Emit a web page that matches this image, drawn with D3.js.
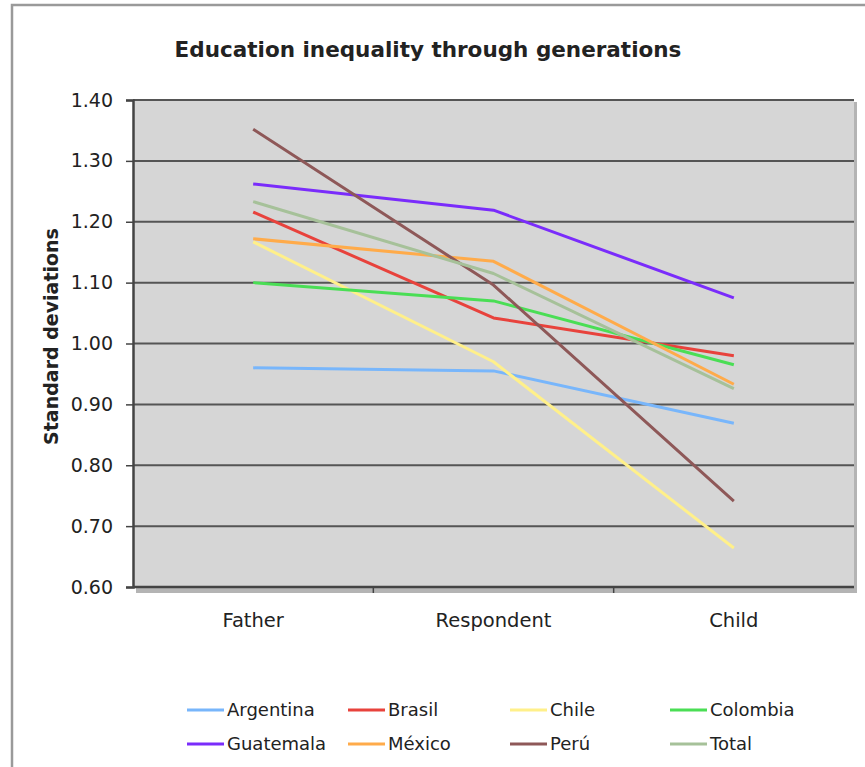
<!DOCTYPE html>
<html>
<head>
<meta charset="utf-8">
<script src="https://cdn.jsdelivr.net/npm/d3@7"></script>
<style>
  html, body { margin: 0; padding: 0; background: #fff; }
  svg { display: block; }
  text { font-family: "DejaVu Sans", Verdana, sans-serif; fill: #222; }
</style>
</head>
<body>
<svg id="chart" width="865" height="767"></svg>
<script>
// Generations on the horizontal axis
const generations = ["Father", "Respondent", "Child"];

// Standard deviation of schooling, per country, per generation
const argentina = [0.960, 0.955, 0.869];
const brasil    = [1.216, 1.042, 0.980];
const chile     = [1.167, 0.970, 0.664];
const colombia  = [1.100, 1.070, 0.965];
const guatemala = [1.262, 1.219, 1.075];
const mexico    = [1.172, 1.135, 0.933];
const peru      = [1.352, 1.096, 0.741];
const total     = [1.233, 1.115, 0.926];

const seriesNames = ["Argentina", "Brasil", "Chile", "Colombia", "Guatemala", "México", "Perú", "Total"];
const seriesColors = ["#78b6fb", "#e8423c", "#fff08a", "#4ade55", "#7a2cfb", "#ffab4a", "#8e5858", "#a6c199"];
const yTicks = [0.60, 0.70, 0.80, 0.90, 1.00, 1.10, 1.20, 1.30, 1.40];

const series = [argentina, brasil, chile, colombia, guatemala, mexico, peru, total]
  .map((values, i) => ({ name: seriesNames[i], color: seriesColors[i], values }));

const svg = d3.select("#chart");

// Outer frame of the chart
svg.append("rect")
  .attr("x", 12).attr("y", 5)
  .attr("width", 870).attr("height", 780)
  .attr("fill", "#fff")
  .attr("stroke", "#9a9a9a")
  .attr("stroke-width", 2.5);

const plot = { left: 133, right: 854, top: 100, bottom: 587 };

const x = d3.scaleBand()
  .domain(generations)
  .range([plot.left, plot.right])
  .paddingInner(0).paddingOuter(0);

const y = d3.scaleLinear()
  .domain([0.6, 1.4])
  .range([plot.bottom, plot.top]);

// Plot area with a soft shadow on the right
svg.append("rect")
  .attr("x", plot.left + 3).attr("y", plot.top + 2)
  .attr("width", plot.right - plot.left).attr("height", plot.bottom - plot.top + 4)
  .attr("fill", "#b4b4b4");
svg.append("rect")
  .attr("x", plot.left).attr("y", plot.top)
  .attr("width", plot.right - plot.left).attr("height", plot.bottom - plot.top)
  .attr("fill", "#d6d6d6");

// Horizontal gridlines
svg.append("g")
  .selectAll("line")
  .data(yTicks)
  .join("line")
  .attr("x1", plot.left).attr("x2", plot.right)
  .attr("y1", d => y(d)).attr("y2", d => y(d))
  .attr("stroke", "#555")
  .attr("stroke-width", 2);

// Y axis
const yAxis = svg.append("g")
  .attr("transform", `translate(${plot.left},0)`)
  .call(d3.axisLeft(y).tickValues(yTicks).tickFormat(d3.format(".2f")).tickSize(7).tickPadding(13));
yAxis.select(".domain").attr("stroke", "#444").attr("stroke-width", 2.5);
yAxis.selectAll(".tick line").attr("stroke", "#444").attr("stroke-width", 1.5);
yAxis.selectAll(".tick text")
  .attr("font-family", "DejaVu Sans, Verdana, sans-serif")
  .attr("font-size", 19)
  .attr("fill", "#333");

// X axis: ticks between categories, labels centred on each category
const xAxis = svg.append("g")
  .attr("transform", `translate(0,${plot.bottom})`);
xAxis.append("line")
  .attr("x1", plot.left).attr("x2", plot.right)
  .attr("stroke", "#444").attr("stroke-width", 2.5);
xAxis.selectAll("line.tick")
  .data(generations.slice(1))
  .join("line")
  .attr("class", "tick")
  .attr("x1", d => x(d)).attr("x2", d => x(d))
  .attr("y1", 0).attr("y2", 6)
  .attr("stroke", "#444").attr("stroke-width", 1.5);
xAxis.selectAll("text")
  .data(generations)
  .join("text")
  .attr("x", d => x(d) + x.bandwidth() / 2)
  .attr("y", 40)
  .attr("text-anchor", "middle")
  .attr("font-size", 19.5)
  .attr("fill", "#333")
  .text(d => d);

// Series lines
const line = d3.line()
  .x((d, i) => x(generations[i]) + x.bandwidth() / 2)
  .y(d => y(d));

svg.append("g")
  .selectAll("path")
  .data(series)
  .join("path")
  .attr("d", d => line(d.values))
  .attr("fill", "none")
  .attr("stroke", d => d.color)
  .attr("stroke-width", 3)
  .attr("stroke-linejoin", "round");

// Title
svg.append("text")
  .attr("x", 428).attr("y", 57)
  .attr("text-anchor", "middle")
  .attr("font-weight", "bold")
  .attr("font-size", 21.5)
  .attr("fill", "#111")
  .text("Education inequality through generations");

// Y axis title
svg.append("text")
  .attr("transform", `translate(58,${(plot.top + plot.bottom) / 2 - 7}) rotate(-90)`)
  .attr("text-anchor", "middle")
  .attr("font-weight", "bold")
  .attr("font-size", 19)
  .attr("fill", "#111")
  .text("Standard deviations");

// Legend, four columns by two rows
const legendCols = [187, 348, 510, 670];
const legendRows = [710, 744];
const legend = svg.append("g")
  .selectAll("g")
  .data(series)
  .join("g")
  .attr("transform", (d, i) => `translate(${legendCols[i % 4]},${legendRows[Math.floor(i / 4)]})`);
legend.append("line")
  .attr("x1", 0).attr("x2", 37)
  .attr("stroke", d => d.color)
  .attr("stroke-width", 3);
legend.append("text")
  .attr("x", 40).attr("y", 0)
  .attr("dy", "0.35em")
  .attr("font-size", 18)
  .attr("fill", "#333")
  .text(d => d.name);
</script>
</body>
</html>
